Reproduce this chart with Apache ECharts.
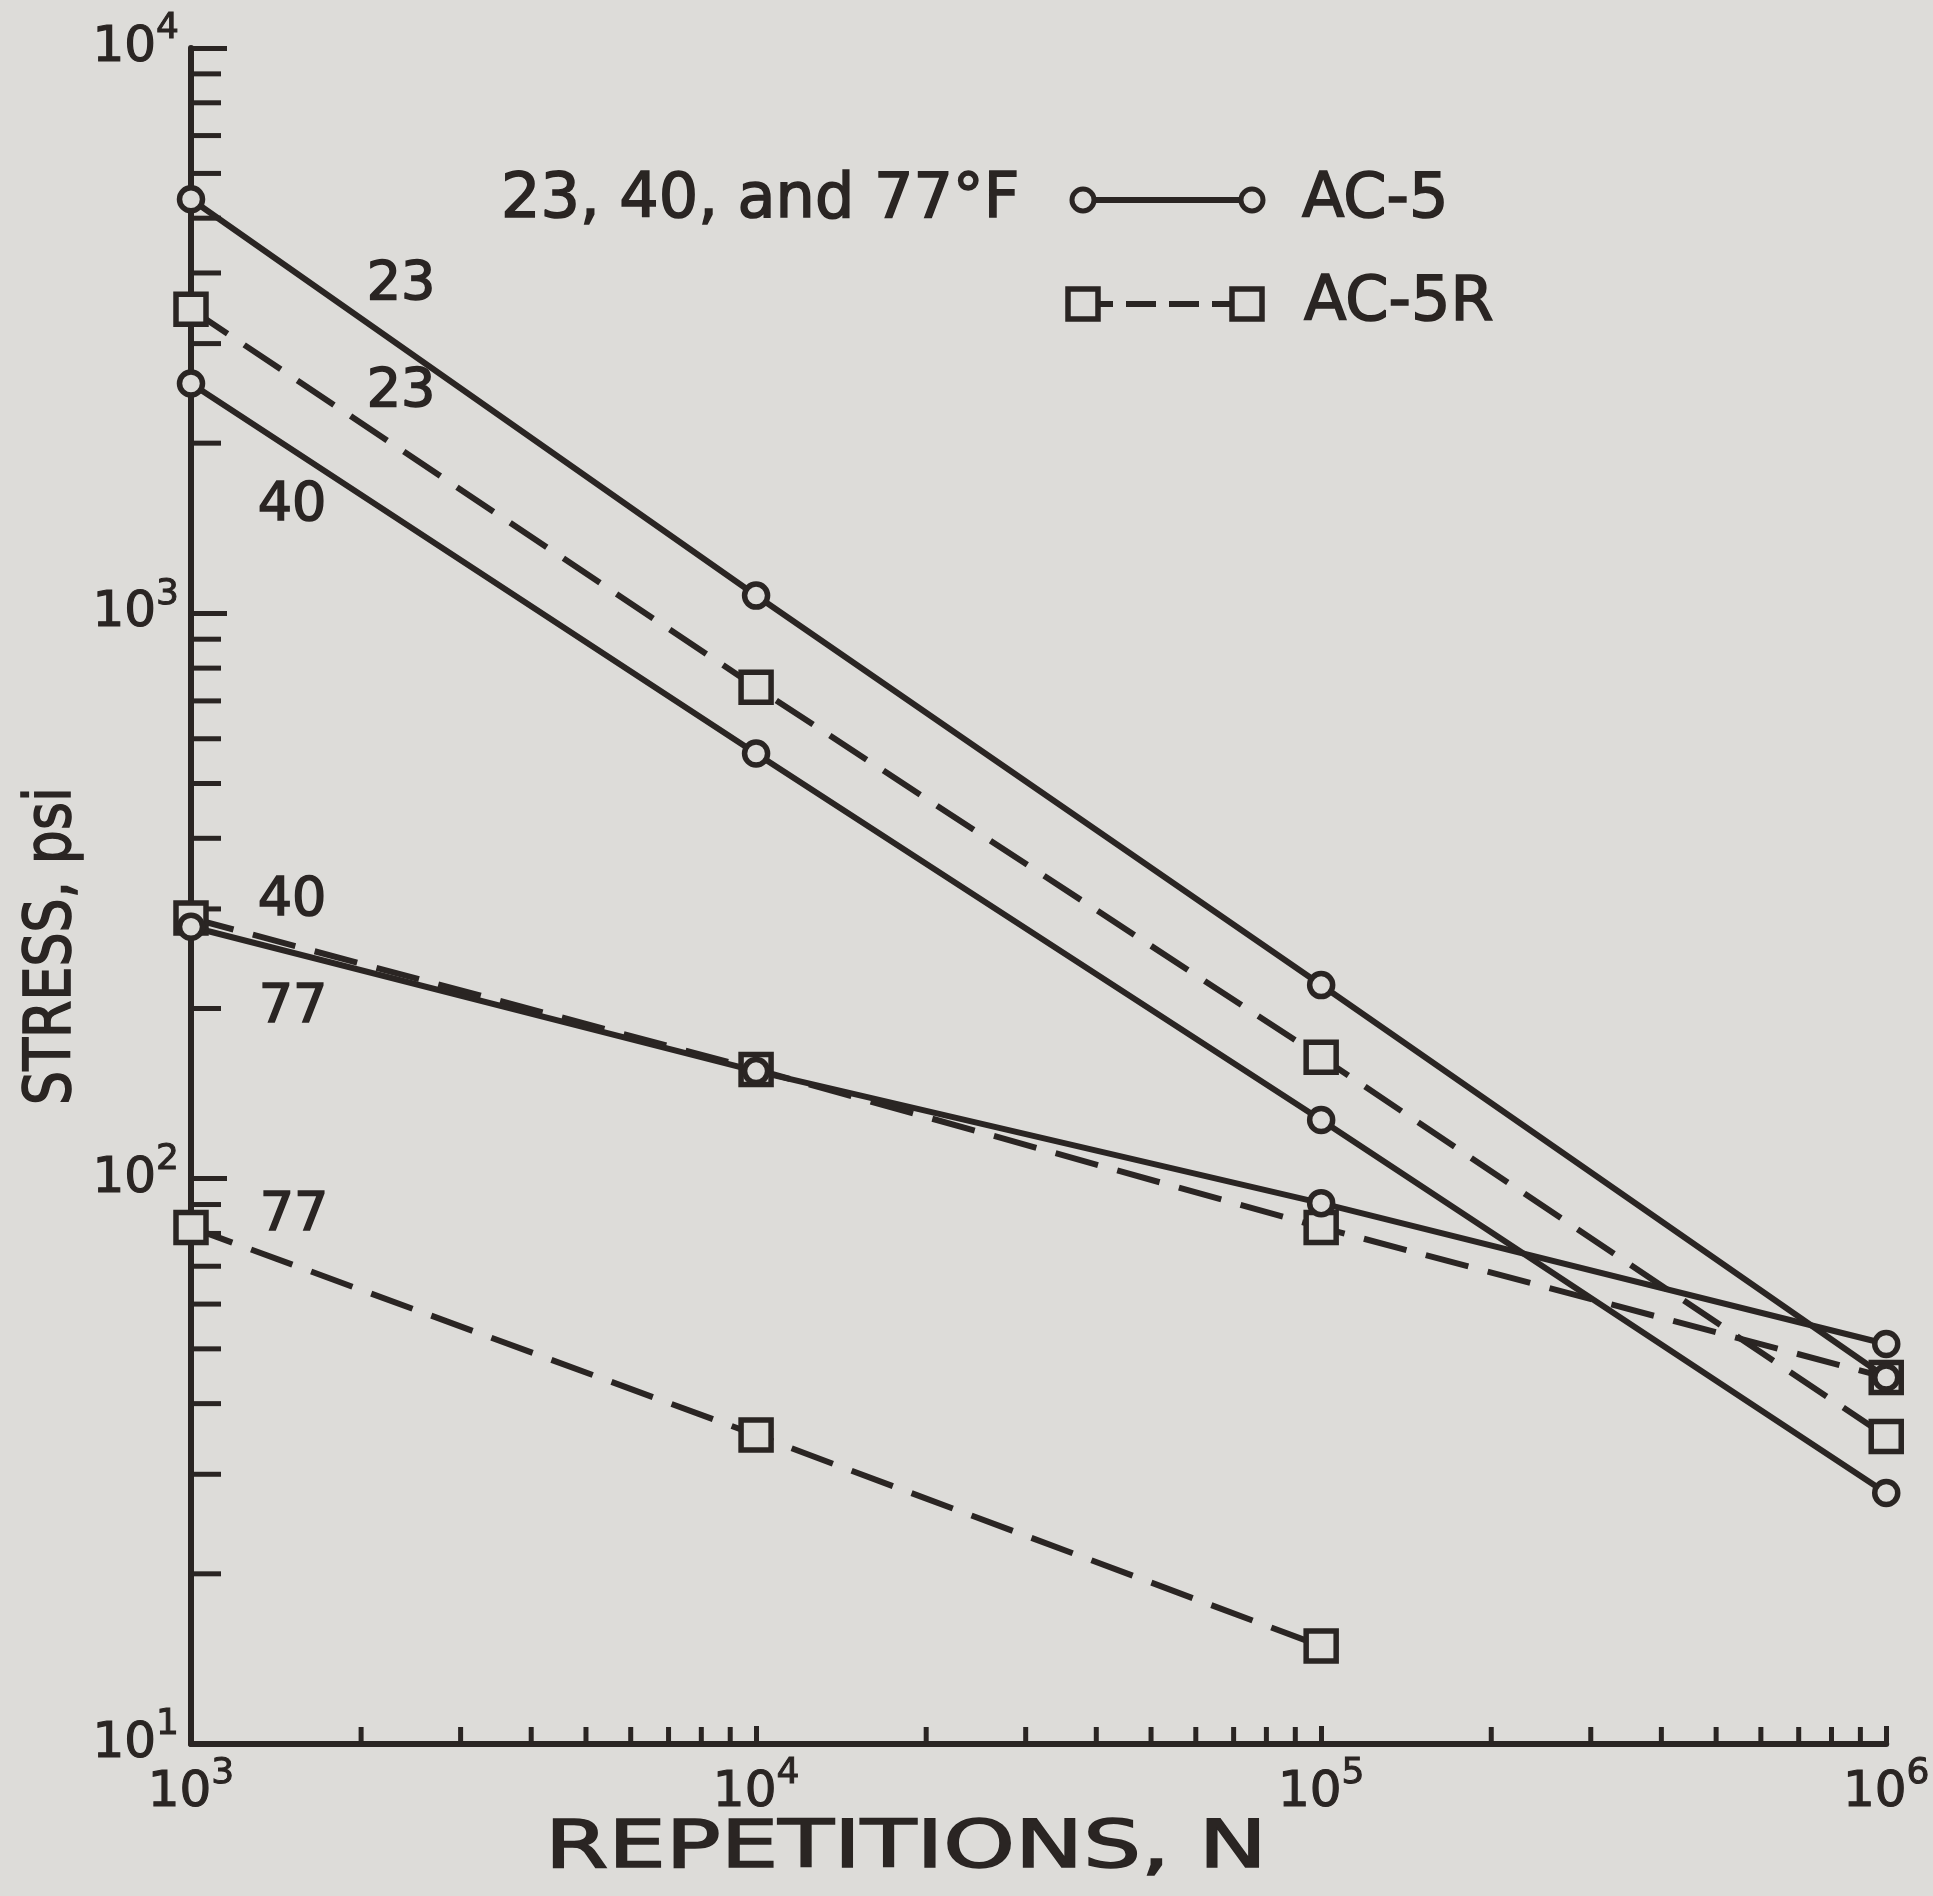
<!DOCTYPE html>
<html>
<head>
<meta charset="utf-8">
<title>Stress vs repetitions</title>
<script src="https://cdn.jsdelivr.net/npm/echarts@6/dist/echarts.min.js"></script>
<style>
  html, body { margin: 0; padding: 0; background: #dddcd9; }
  #chart { width: 1933px; height: 1896px; }
</style>
</head>
<body>
<div id="chart"></div>
<script>
// repetitions N (x) and stress in psi (y)
const repetitions = [1e3, 1e4, 1e5, 1e6];

const ac5_23 = [5400, 1075, 220, 44.5];
const ac5_40 = [2550, 565, 127, 27.8];
const ac5_77 = [279, 155, 90.5, 51];
const ac5r_23 = [3450, 740, 164, 35];
const ac5r_40 = [289, 156, 82, 44.5];
const ac5r_77 = [82, 35.2, 14.9];

// minor tick multipliers per decade
const minorSteps = [2, 3, 4, 5, 6, 7, 8, 9];
const yDecades = [10, 100, 1000];
const xDecades = [1e3, 1e4, 1e5];

const INK = "#2a2523";
const BG = "#dddcd9";
const FONT = "DejaVu Sans";

const yMinor = [];
yDecades.forEach((d) => minorSteps.forEach((m) => yMinor.push([1e3, m * d])));
const xMinor = [];
xDecades.forEach((d) => minorSteps.forEach((m) => xMinor.push([m * d, 10])));

function toPairs(values) {
  return values.map((v, i) => [repetitions[i], v]);
}

function tickRenderer(dir, len) {
  return function (params, api) {
    const p = api.coord([api.value(0), api.value(1)]);
    const shape =
      dir === "y"
        ? { x1: p[0], y1: p[1], x2: p[0] + len, y2: p[1] }
        : { x1: p[0], y1: p[1], x2: p[0], y2: p[1] - len };
    return { type: "line", shape: shape, style: { stroke: INK, lineWidth: 5 } };
  };
}

function lineSeries(name, values, dashed) {
  return {
    name: name,
    type: "line",
    data: toPairs(values),
    symbol: dashed ? "rect" : "circle",
    symbolSize: dashed ? 30 : 23,
    z: dashed ? 3 : 4,
    lineStyle: { color: INK, width: 6, type: dashed ? [44, 20] : "solid" },
    itemStyle: { color: BG, borderColor: INK, borderWidth: 5.5 },
    emphasis: { disabled: true },
  };
}

const powLabel = {
  formatter: (v) => "{b|10}{e|" + Math.round(Math.log10(v)) + "}",
  rich: {
    b: { fontSize: 50, fontFamily: FONT, color: INK, lineHeight: 74, textBorderColor: INK, textBorderWidth: 1.2 },
    e: { fontSize: 36, fontFamily: FONT, color: INK, lineHeight: 36, verticalAlign: "top", textBorderColor: INK, textBorderWidth: 1 },
  },
};

function textEl(text, x, y, size, extra) {
  return Object.assign(
    {
      type: "text",
      x: x,
      y: y,
      style: {
        text: text,
        fontSize: size,
        fontFamily: FONT,
        fill: INK,
        stroke: INK,
        lineWidth: 1.6,
        align: "center",
        verticalAlign: "middle",
        textAlign: "center",
        textVerticalAlign: "middle",
      },
    },
    extra || {}
  );
}

function leftText(text, x, y, size) {
  const el = textEl(text, x, y, size);
  el.style.align = "left";
  el.style.textAlign = "left";
  return el;
}

const myChart = echarts.init(document.getElementById("chart"));

myChart.setOption({
  backgroundColor: BG,
  animation: false,
  grid: { left: 191, right: 41, top: 48, bottom: 152 },
  xAxis: {
    type: "log",
    logBase: 10,
    min: 1e3,
    max: 1e6,
    splitLine: { show: false },
    axisLine: { lineStyle: { color: INK, width: 6 } },
    axisTick: { inside: true, length: 18, lineStyle: { color: INK, width: 5 } },
    axisLabel: Object.assign({ margin: 12, verticalAlign: "top" }, powLabel),
  },
  yAxis: {
    type: "log",
    logBase: 10,
    min: 10,
    max: 1e4,
    splitLine: { show: false },
    axisLine: { lineStyle: { color: INK, width: 6 } },
    axisTick: { inside: true, length: 36, lineStyle: { color: INK, width: 5 } },
    axisLabel: Object.assign({ margin: 12 }, powLabel),
  },
  graphic: [
    textEl("23", 401, 285, 54),
    textEl("23", 401, 392, 54),
    textEl("40", 292, 506, 54),
    textEl("40", 292, 901, 54),
    textEl("77", 293, 1008, 54),
    textEl("77", 294, 1216, 54),
    // legend
    leftText("23, 40, and 77°F", 501, 201, 62),
    { type: "line", shape: { x1: 1083, y1: 200, x2: 1252, y2: 200 }, style: { stroke: INK, lineWidth: 6 } },
    { type: "circle", shape: { cx: 1083, cy: 200, r: 11 }, style: { fill: BG, stroke: INK, lineWidth: 5 } },
    { type: "circle", shape: { cx: 1252, cy: 200, r: 11 }, style: { fill: BG, stroke: INK, lineWidth: 5 } },
    leftText("AC-5", 1302, 201, 62),
    { type: "line", shape: { x1: 1083, y1: 304, x2: 1235, y2: 304 }, style: { stroke: INK, lineWidth: 6, lineDash: [30, 13] } },
    { type: "rect", shape: { x: 1068, y: 289, width: 30, height: 30 }, style: { fill: BG, stroke: INK, lineWidth: 5.5 } },
    { type: "rect", shape: { x: 1232, y: 289, width: 30, height: 30 }, style: { fill: BG, stroke: INK, lineWidth: 5.5 } },
    leftText("AC-5R", 1304, 304, 62),
    // axis names
    textEl("REPETITIONS, N", 906, 1850, 66, { scaleX: 1.38 }),
    textEl("STRESS, psi", 53, 946, 64, { rotation: Math.PI / 2, scaleX: 0.84 }),
  ],
  series: [
    {
      type: "custom",
      renderItem: tickRenderer("y", 30),
      data: yMinor,
      clip: false,
      silent: true,
      z: 1,
    },
    {
      type: "custom",
      renderItem: tickRenderer("x", 17),
      data: xMinor,
      clip: false,
      silent: true,
      z: 1,
    },
    lineSeries("AC-5", ac5_23, false),
    lineSeries("AC-5", ac5_40, false),
    lineSeries("AC-5", ac5_77, false),
    lineSeries("AC-5R", ac5r_23, true),
    lineSeries("AC-5R", ac5r_40, true),
    lineSeries("AC-5R", ac5r_77, true),
  ],
});
</script>
</body>
</html>
